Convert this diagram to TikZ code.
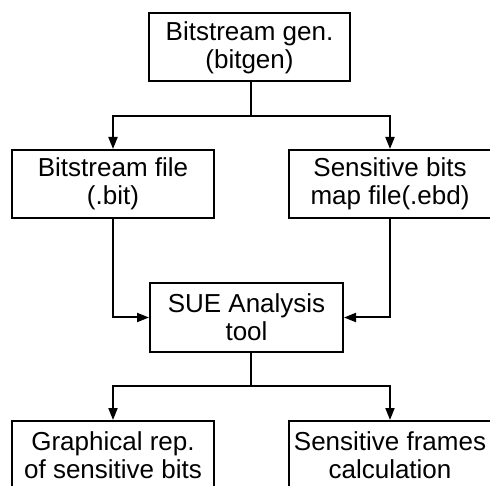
\documentclass[tikz,border=0pt]{standalone}
\usepackage{fontspec}
\setmainfont{Liberation Sans}
\usetikzlibrary{arrows.meta}

\tikzset{bloc/.style = {draw, line width=2pt, align=center,
                        minimum width=#1, minimum height=68pt,
                        inner sep=0pt, font=\fontsize{26}{28}\selectfont},
         bloc/.default=202pt,
         fleche/.style = {line width=2pt, -{Triangle[length=12pt,width=9pt]}},
         trait/.style = {line width=2.4pt}
        }

\begin{document}
\begin{tikzpicture}[x=1pt,y=-1pt]
\clip (0,0) rectangle (490,486);
\node[bloc=201pt] at (249.5,47.5) (gen) {Bitstream gen.\\(bitgen)};
\node[bloc] at (113,184) (bit) {Bitstream file\\(.bit)};
\node[bloc] at (390,184) (ebd) {Sensitive bits\\map file(.ebd)};
\node[bloc=193pt,minimum height=69pt] at (246.5,317.5) (sue) {SUE Analysis\\tool};
\node[bloc] at (113,455) (graph) {Graphical rep.\\of sensitive bits};
\node[bloc] at (390,455) (frames) {Sensitive frames\\calculation};
\coordinate (j1) at (251,116);
\coordinate (j2) at (251,386);
% liaisons
\draw[trait] (gen.south -| j1) -- (j1);
\draw[fleche] (j1) -| (bit.north);
\draw[fleche] (j1) -| (ebd.north);
\draw[fleche] (bit.south) |- (sue.west);
\draw[fleche] (ebd.south) |- (sue.east);
\draw[trait] (sue.south -| j2) -- (j2);
\draw[fleche] (j2) -| (graph.north);
\draw[fleche] (j2) -| (frames.north);
\end{tikzpicture}
\end{document}
